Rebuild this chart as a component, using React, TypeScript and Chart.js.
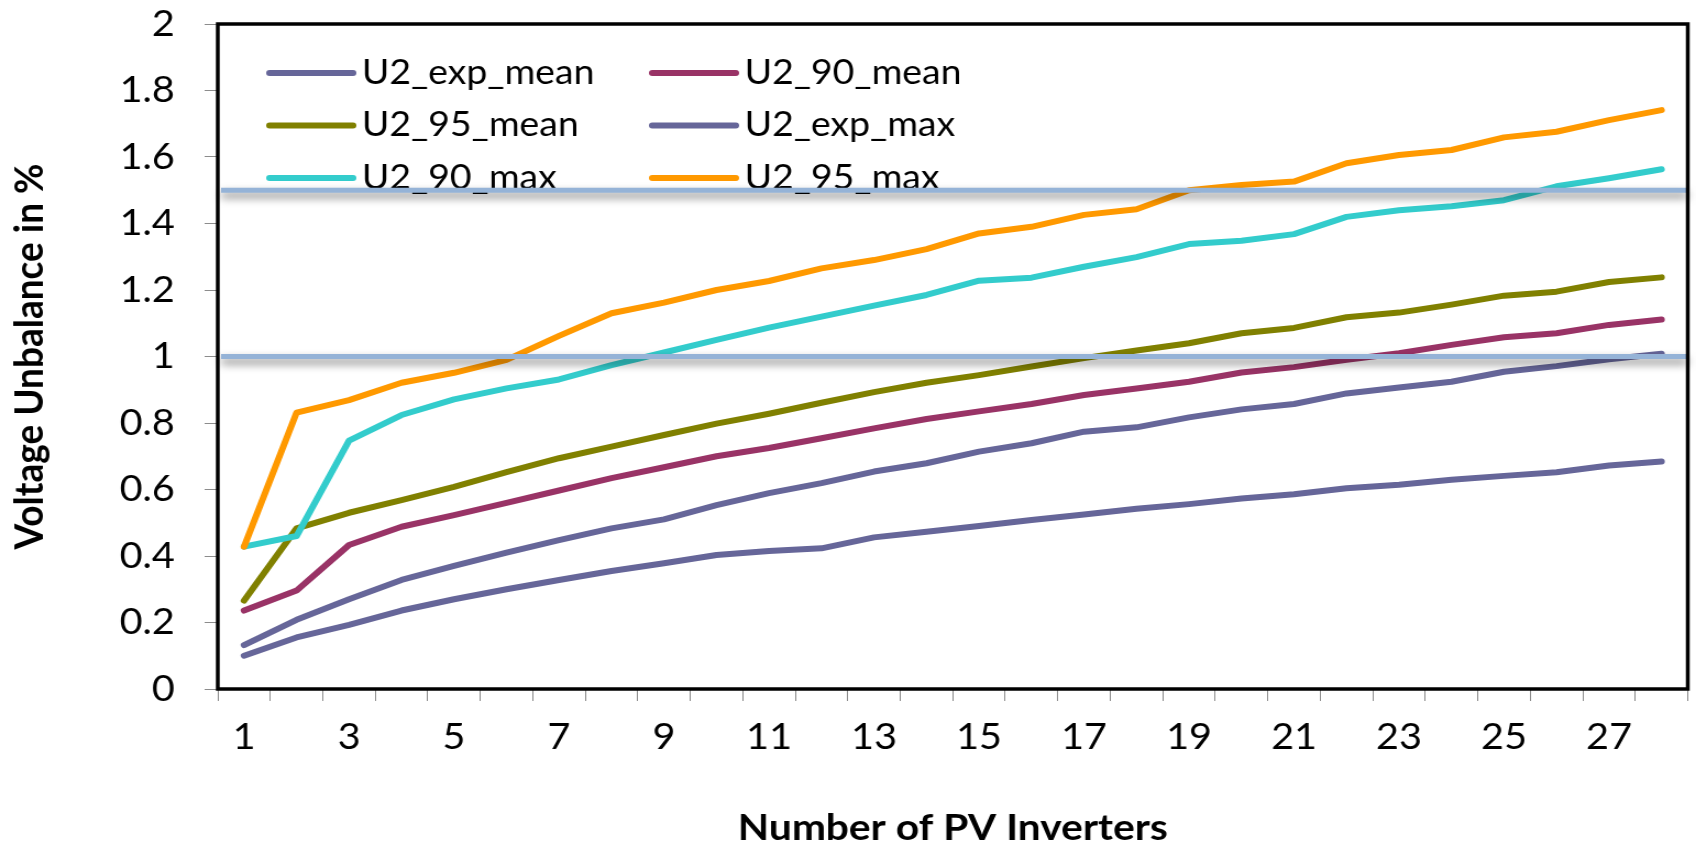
import React, { useEffect, useRef } from "react";
import { Chart, registerables } from "chart.js";

Chart.register(...registerables);

// ---------------- data ----------------
const categories = [
  "1", "2", "3", "4", "5", "6", "7", "8", "9", "10", "11", "12", "13", "14",
  "15", "16", "17", "18", "19", "20", "21", "22", "23", "24", "25", "26", "27", "28",
];

const u2ExpMean = [
  0.1, 0.155, 0.193, 0.236, 0.27, 0.3, 0.328, 0.355, 0.378, 0.403, 0.415, 0.423, 0.456, 0.473,
  0.49, 0.508, 0.525, 0.542, 0.556, 0.573, 0.586, 0.604, 0.614, 0.629, 0.641, 0.652, 0.672, 0.684,
];
const u2_90Mean = [
  0.236, 0.296, 0.433, 0.488, 0.523, 0.56, 0.597, 0.634, 0.667, 0.7, 0.725, 0.754, 0.784, 0.812,
  0.835, 0.857, 0.884, 0.904, 0.924, 0.952, 0.968, 0.99, 1.01, 1.035, 1.058, 1.07, 1.095, 1.111,
];
const u2_95Mean = [
  0.266, 0.483, 0.53, 0.568, 0.608, 0.652, 0.694, 0.729, 0.764, 0.798, 0.828, 0.861, 0.893, 0.921,
  0.944, 0.97, 0.995, 1.018, 1.04, 1.07, 1.086, 1.118, 1.132, 1.156, 1.183, 1.195, 1.224, 1.238,
];
const u2ExpMax = [
  0.132, 0.208, 0.27, 0.328, 0.37, 0.41, 0.448, 0.483, 0.51, 0.553, 0.589, 0.619, 0.654, 0.679,
  0.714, 0.739, 0.774, 0.787, 0.817, 0.841, 0.857, 0.889, 0.907, 0.924, 0.954, 0.971, 0.992, 1.008,
];
const u2_90Max = [
  0.428, 0.46, 0.747, 0.824, 0.871, 0.904, 0.931, 0.974, 1.012, 1.05, 1.087, 1.12, 1.153, 1.185,
  1.228, 1.237, 1.27, 1.299, 1.338, 1.348, 1.368, 1.42, 1.44, 1.452, 1.47, 1.512, 1.536, 1.563,
];
const u2_95Max = [
  0.428, 0.831, 0.869, 0.921, 0.951, 0.99, 1.062, 1.13, 1.162, 1.2, 1.227, 1.265, 1.29, 1.323,
  1.37, 1.39, 1.426, 1.443, 1.5, 1.516, 1.526, 1.581, 1.606, 1.621, 1.659, 1.676, 1.711, 1.741,
];

const seriesLabels = ["U2_exp_mean", "U2_90_mean", "U2_95_mean", "U2_exp_max", "U2_90_max", "U2_95_max"];
const seriesValues = [u2ExpMean, u2_90Mean, u2_95Mean, u2ExpMax, u2_90Max, u2_95Max];
const seriesColors = ["#666699", "#993366", "#808000", "#666699", "#33CCCC", "#FF9900"];

const thresholds = [1.0, 1.5];

const yMin = 0;
const yMax = 2;
const yStep = 0.2;

const xTitle = "Number of PV Inverters";
const yTitle = "Voltage Unbalance in %";

// ---------------- layout ----------------
const PAGE_W = 1696;
const PAGE_H = 845;
const STRETCH = 1.1;
const CANVAS_W = Math.round(PAGE_W / STRETCH);

const FONT = "Lato";

const overlayPlugin = {
  id: "overlay",
  afterDatasetsDraw(chart: any) {
    const { ctx, chartArea } = chart;
    ctx.save();
    // legend (2 columns x 3 rows inside the plot)
    chart.data.datasets.forEach((d: any, i: number) => {
      const col = i % 2;
      const row = Math.floor(i / 2);
      const x0 = chartArea.left + 47 + col * 348;
      const y = chartArea.top + 49 + row * 52.5;
      ctx.beginPath();
      ctx.lineCap = "round";
      ctx.lineWidth = 6;
      ctx.strokeStyle = d.borderColor;
      ctx.moveTo(x0, y);
      ctx.lineTo(x0 + 76, y);
      ctx.stroke();
      ctx.fillStyle = "#000";
      ctx.font = `34px ${FONT}`;
      ctx.textBaseline = "middle";
      ctx.textAlign = "left";
      ctx.fillText(d.label, x0 + 84, y);
    });
    // threshold lines with shadow
    const yScale = chart.scales.y;
    thresholds.forEach((v) => {
      const py = yScale.getPixelForValue(v);
      ctx.save();
      ctx.shadowColor = "rgba(0,0,0,0.5)";
      ctx.shadowBlur = 8;
      ctx.shadowOffsetY = 5;
      ctx.strokeStyle = "#95B3D7";
      ctx.lineWidth = 5;
      ctx.lineCap = "butt";
      ctx.beginPath();
      ctx.moveTo(chartArea.left + 3, py);
      ctx.lineTo(chartArea.right, py);
      ctx.stroke();
      ctx.restore();
    });
    ctx.restore();
  },
  afterDraw(chart: any) {
    const { ctx, chartArea } = chart;
    ctx.save();
    ctx.strokeStyle = "#000";
    ctx.lineWidth = 3.5;
    ctx.strokeRect(chartArea.left, chartArea.top, chartArea.right - chartArea.left, chartArea.bottom - chartArea.top);
    ctx.restore();
  },
};

export default function App() {
  const canvasRef = useRef<HTMLCanvasElement | null>(null);

  useEffect(() => {
    document.body.style.margin = "0";
    document.body.style.overflow = "hidden";
    const canvas = canvasRef.current;
    if (!canvas) return;

    const datasets = seriesLabels.map((label, i) => ({
      label,
      data: seriesValues[i],
      borderColor: seriesColors[i],
      backgroundColor: seriesColors[i],
      borderWidth: 6,
      pointRadius: 0,
      pointHoverRadius: 0,
      tension: 0,
      fill: false,
      borderCapStyle: "round" as const,
      borderJoinStyle: "round" as const,
      order: seriesLabels.length - 1 - i,
    }));

    const chart = new Chart(canvas, {
      type: "line",
      data: { labels: categories, datasets },
      options: {
        animation: false,
        responsive: false,
        devicePixelRatio: 1,
        events: [],
        layout: { padding: { top: 24, right: 7.5, left: 0, bottom: 0 } },
        plugins: {
          legend: { display: false },
          tooltip: { enabled: false },
          title: { display: false },
        },
        scales: {
          x: {
            type: "category",
            offset: true,
            grid: {
              offset: true,
              drawOnChartArea: false,
              drawTicks: true,
              tickLength: 12,
              color: "#8c8c8c",
              lineWidth: 1,
            },
            border: { display: false },
            ticks: {
              autoSkip: false,
              maxRotation: 0,
              minRotation: 0,
              padding: 15,
              color: "#000",
              font: { family: FONT, size: 36 },
              callback: (_v: any, i: number) => (i % 2 === 0 ? categories[i] : ""),
            },
            title: {
              display: true,
              text: xTitle,
              color: "#000",
              font: { family: FONT, size: 37, weight: "bold", lineHeight: 0.9 },
              padding: { top: 0, bottom: 0 },
            },
            afterFit: (s: any) => {
              s.height = 156;
              s.paddingLeft = 0;
              s.paddingRight = 0;
            },
          },
          y: {
            min: yMin,
            max: yMax,
            grid: {
              drawOnChartArea: false,
              drawTicks: true,
              tickLength: 12,
              color: "#8c8c8c",
              lineWidth: 1,
            },
            border: { display: false },
            ticks: {
              stepSize: yStep,
              padding: 27,
              color: "#000",
              font: { family: FONT, size: 36 },
              callback: (v: any) => String(Math.round(Number(v) * 10) / 10),
            },
            title: {
              display: true,
              text: yTitle,
              color: "#000",
              font: { family: FONT, size: 37, weight: "bold", lineHeight: 0.9 },
              padding: { top: 10, bottom: 0 },
            },
            afterFit: (s: any) => {
              s.width = 198;
              s.paddingTop = 0;
              s.paddingBottom = 0;
            },
          },
        },
      },
      plugins: [overlayPlugin],
    });

    return () => chart.destroy();
  }, []);

  return (
    <canvas
      ref={canvasRef}
      width={CANVAS_W}
      height={PAGE_H}
      style={{ display: "block", width: `${PAGE_W}px`, height: `${PAGE_H}px` }}
    />
  );
}
